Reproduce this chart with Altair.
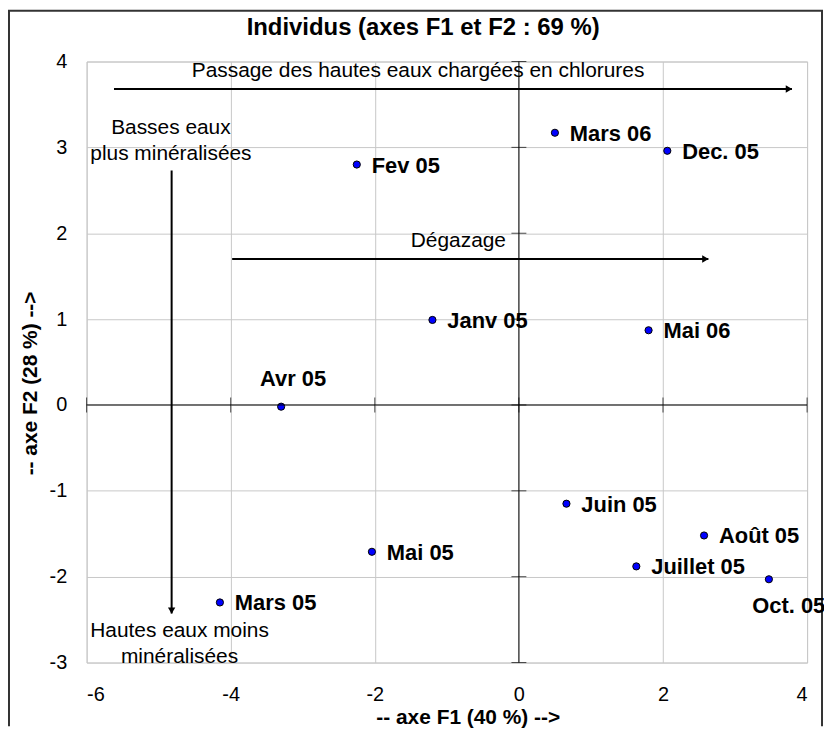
import altair as alt
import pandas as pd

FONT = "Liberation Sans"

# ---- data ----
names = ["Mars 06", "Dec. 05", "Fev 05", "Janv 05", "Mai 06", "Avr 05",
         "Juin 05", "Août 05", "Mai 05", "Juillet 05", "Mars 05", "Oct. 05"]
f1 = [0.50, 2.06, -2.25, -1.20, 1.80, -3.30, 0.66, 2.57, -2.04, 1.63, -4.15, 3.47]
f2 = [3.17, 2.96, 2.80, 0.99, 0.87, -0.02, -1.15, -1.52, -1.71, -1.88, -2.30, -2.03]

x_ticks = [-6, -4, -2, 0, 2, 4]
y_ticks = [-3, -2, -1, 0, 1, 2, 3, 4]

arrow_id = ["chlorures", "degazage", "mineralisation"]
arrow_x1 = [-5.62, -3.98, -4.82]
arrow_x2 = [3.79, 2.63, -4.82]
arrow_y1 = [3.68, 1.70, 2.73]
arrow_y2 = [3.68, 1.70, -2.43]

note_text = ["Passage des hautes eaux chargées en chlorures", "Dégazage",
             "Basses eaux", "plus minéralisées", "Hautes eaux moins", "minéralisées"]
note_x = [-1.40, -0.84, -4.83, -4.83, -4.71, -4.71]
note_y = [3.89, 1.91, 3.23, 2.92, -2.63, -2.93]

# label placement (style, not data)
placement = {"Avr 05": "above", "Oct. 05": "below"}

# ---- tables ----
pts = pd.DataFrame({"name": names, "f1": f1, "f2": f2})
pts["place"] = [placement.get(n, "right") for n in names]
arrows = pd.DataFrame({"id": arrow_id, "x1": arrow_x1, "x2": arrow_x2,
                       "y1": arrow_y1, "y2": arrow_y2})
notes = pd.DataFrame({"text": note_text, "x": note_x, "y": note_y})
xt = pd.DataFrame({"v": x_ticks, "zero": [0] * len(x_ticks)})
yt = pd.DataFrame({"v": y_ticks, "zero": [0] * len(y_ticks)})
one = pd.DataFrame({"a": [0]})

W, H = 724, 604
PAD = {"left": 79, "top": 52, "right": 17, "bottom": 64}

XT = "-- axe F1 (40 %) -->"
YT = "-- axe F2 (28 %) -->"

xs = alt.Scale(domain=[-6, 4], nice=False, zero=False)
ys = alt.Scale(domain=[-3, 4], nice=False, zero=False)

AX = alt.Axis(
    values=x_ticks, title=XT, grid=True, gridColor="#c8c8c8",
    domain=False, ticks=False, tickSize=0, labelPadding=22, labelFontSize=20,
    labelFont=FONT, labelColor="black", labelExpr="'' + datum.value",
    titleFont=FONT, titleFontSize=21, titleFontWeight="bold", titleColor="black",
    titleBaseline="alphabetic", titleX=383, titleY=61)
AY = alt.Axis(
    values=y_ticks, title=YT, grid=True, gridColor="#c8c8c8",
    domain=False, ticks=False, tickSize=0, labelPadding=20, labelFontSize=20,
    labelFont=FONT, labelColor="black", labelExpr="'' + datum.value",
    titleFont=FONT, titleFontSize=21, titleFontWeight="bold", titleColor="black",
    titleBaseline="alphabetic", titleX=-50, titleY=323)

def X(field):
    return alt.X(field, type="quantitative", scale=xs, axis=AX, title=XT)

def Y(field):
    return alt.Y(field, type="quantitative", scale=ys, axis=AY, title=YT)

# points
points = alt.Chart(pts).mark_circle(
    size=52, color="#0000ff", opacity=1, stroke="black", strokeWidth=1
).encode(x=X("f1"), y=Y("f2"))

# cross axes at zero
hline = alt.Chart(xt).mark_rule(color="black", strokeWidth=1).encode(
    x=X("min(v)"), x2="max(v)", y=Y("min(zero)"))
vline = alt.Chart(yt).mark_rule(color="black", strokeWidth=1).encode(
    y=Y("min(v)"), y2="max(v)", x=X("min(zero)"))
xticks = alt.Chart(xt).mark_tick(orient="vertical", color="black", size=15, thickness=1).encode(
    x=X("v"), y=Y("zero"))
yticks = alt.Chart(yt).mark_tick(orient="horizontal", color="black", size=15, thickness=1).encode(
    x=X("zero"), y=Y("v"))

# annotation arrows
arrow_lines = alt.Chart(arrows).mark_rule(color="black", strokeWidth=2).encode(
    x=X("x1"), x2="x2", y=Y("y1"), y2="y2")
head_r = alt.Chart(arrows).transform_filter("datum.y1 == datum.y2").mark_point(
    shape="triangle-right", filled=True, color="black", size=55, opacity=1, xOffset=-3
).encode(x=X("x2"), y=Y("y2"))
head_d = alt.Chart(arrows).transform_filter("datum.x1 == datum.x2").mark_point(
    shape="triangle-down", filled=True, color="black", size=55, opacity=1, yOffset=-3
).encode(x=X("x2"), y=Y("y2"))
note_marks = alt.Chart(notes).mark_text(
    font=FONT, fontSize=21, color="black", align="center", baseline="middle"
).encode(x=X("x"), y=Y("y"), text="text:N")

# point labels
LBL = dict(font=FONT, fontSize=22, fontWeight="bold", color="black", baseline="middle")
lab_right = alt.Chart(pts).transform_filter("datum.place == 'right'").mark_text(
    align="left", dx=15, dy=1, **LBL).encode(x=X("f1"), y=Y("f2"), text="name:N")
lab_above = alt.Chart(pts).transform_filter("datum.place == 'above'").mark_text(
    align="center", dx=12, dy=-28, **LBL).encode(x=X("f1"), y=Y("f2"), text="name:N")
lab_below = alt.Chart(pts).transform_filter("datum.place == 'below'").mark_text(
    align="center", dx=20, dy=27, **LBL).encode(x=X("f1"), y=Y("f2"), text="name:N")

# outer chart frame (decoration, pixel space)
frame_left = alt.Chart(one).mark_rule(color="#333333", strokeWidth=2).encode(
    x=alt.value(-78), y=alt.value(-51), y2=alt.value(H + PAD["bottom"]))
frame_right = alt.Chart(one).mark_rule(color="#333333", strokeWidth=2).encode(
    x=alt.value(739), y=alt.value(-51), y2=alt.value(H + PAD["bottom"]))
frame_top = alt.Chart(one).mark_rule(color="#333333", strokeWidth=2).encode(
    x=alt.value(-79), x2=alt.value(740), y=alt.value(-51))

chart = alt.layer(
    points,
    frame_left, frame_right, frame_top,
    note_marks, arrow_lines, head_r, head_d,
    hline, vline, xticks, yticks,
    lab_right, lab_above, lab_below,
).properties(
    width=W, height=H,
    padding=PAD,
    autosize=alt.AutoSizeParams(type="none"),
    title=alt.TitleParams("Individus (axes F1 et F2 : 69 %)", font=FONT, fontSize=24,
                          fontWeight="bold", color="black", anchor="middle",
                          frame="bounds", baseline="alphabetic", offset=-49, dx=7),
).configure_view(stroke="#c8c8c8", strokeWidth=1)

chart.save("out.html", embed_options={"renderer": "svg", "actions": False})
